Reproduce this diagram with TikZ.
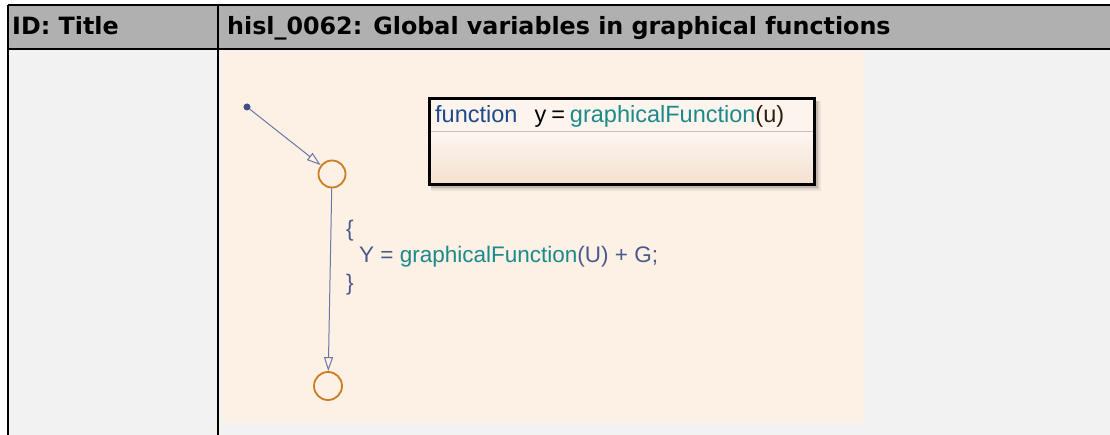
\documentclass[tikz,border=0pt]{standalone}
\usepackage{fontspec}
\setmainfont{Liberation Sans}
\newfontfamily\hdrfont{DejaVu Sans}
\usetikzlibrary{arrows.meta}
\definecolor{hdrgray}{HTML}{B0B0B0}
\definecolor{bodygray}{HTML}{F2F2F2}
\definecolor{peach}{HTML}{FDF0E5}
\definecolor{circc}{HTML}{CC7D22}
\definecolor{transc}{HTML}{6A78A8}
\definecolor{dotc}{HTML}{3F4F8A}
\definecolor{fnblue}{HTML}{1F4A8A}
\definecolor{sfteal}{HTML}{1A8A8A}
\definecolor{slate}{HTML}{4A5A8C}
\definecolor{parenc}{HTML}{2A2010}
\definecolor{fnhdr}{HTML}{FDF4EE}
\definecolor{sepgray}{HTML}{C8BCB4}
\definecolor{gradtop}{HTML}{FCF6F2}
\definecolor{gradbot}{HTML}{F4E0CF}
\tikzset{
  hdr/.style={anchor=base west, inner sep=0pt, font=\hdrfont\bfseries\fontsize{23.8}{28}\selectfont},
  fnlbl/.style={anchor=base west, inner sep=0pt, font=\fontsize{23.5}{27}\selectfont},
  lbl/.style={anchor=base west, inner sep=0pt, font=\fontsize{22.5}{27}\selectfont},
  junction/.style={circle, draw=circc, line width=1.8pt, minimum size=27pt, inner sep=0pt},
  trans/.style={draw=transc, line width=1pt, -{Triangle[open, length=14pt, width=9pt]}},
  fnbox/.style={draw=black, line width=3pt, minimum width=385pt, minimum height=86pt, inner sep=0pt}
}
\begin{document}
\begin{tikzpicture}[x=1pt,y=-1pt]
\useasboundingbox (0,0) rectangle (1110,435);
\fill[white] (0,0) rectangle (1110,435);
% table
\fill[bodygray] (8,49) rectangle (1110,435);
\fill[hdrgray] (8,5) rectangle (1110,49);
\fill[peach] (222,51) rectangle (864,423);
\draw[line width=2pt] (8,5) -- (1110,5);
\draw[line width=2pt] (8,49) -- (1110,49);
\draw[line width=1.5pt] (8,5) -- (8,435);
\draw[line width=1.5pt] (218,5) -- (218,435);
\node[hdr] (idtitle) at (12,35) {ID: Title};
\node[hdr] (title) at (227,35) {hisl\_0062: Global variables in graphical functions};
% function box shadow
\fill[black, opacity=0.06] (431,101) rectangle (821,191);
\fill[black, opacity=0.08] (431,101) rectangle (819,189);
\fill[black, opacity=0.10] (431,101) rectangle (818,188);
% function box
\shade[top color=gradtop, bottom color=gradbot] (428,132) rectangle (814,184);
\fill[fnhdr] (428,98) rectangle (814,132);
\draw[sepgray, line width=1pt] (429,132) -- (813,132);
\node[fnbox, anchor=north west] (fnbox) at (428,97.5) {};
\node[fnlbl] (fnsig) at (435,123) {\textcolor{fnblue}{function}\hspace{17pt}\textcolor{black}{y}\hspace{5pt}=\hspace{5pt}\textcolor{sfteal}{graphicalFunction}\textcolor{parenc}{(u)}};
% chart
\node[circle, fill=dotc, inner sep=0pt, minimum size=7pt] (dot) at (247,107) {};
\node[junction] (j1) at (332,174) {};
\node[junction, minimum width=27pt, minimum height=28pt] (j2) at (328,386) {};
\draw[trans] (dot) -- (j1);
\draw[trans] (j1) -- (j2);
\node[lbl, text=slate] (lb1) at (346,237) {\{};
\node[lbl, text=slate] (lb2) at (359,263) {Y = \textcolor{sfteal}{graphicalFunction}(U) + G;};
\node[lbl, text=slate] (lb3) at (346,291) {\}};
\end{tikzpicture}
\end{document}
